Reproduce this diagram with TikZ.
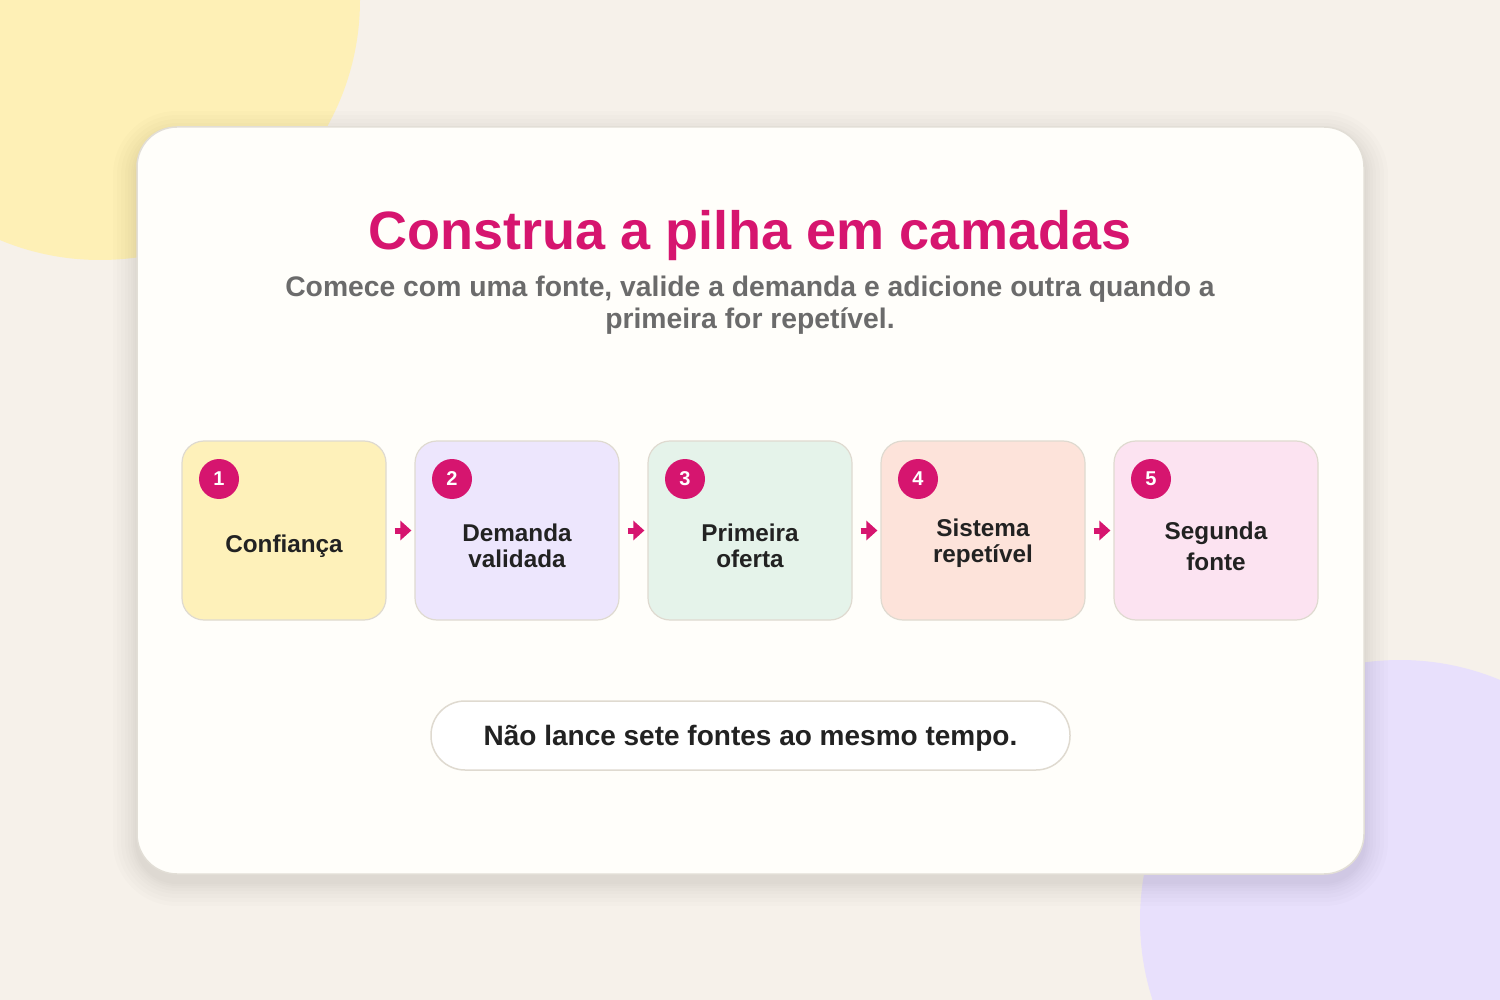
\documentclass[tikz,border=0pt]{standalone}
\usepackage{fontspec}
\setmainfont{Liberation Sans}
\usetikzlibrary{arrows.meta}
\definecolor{bgcol}{HTML}{F6F1EA}
\definecolor{blobyellow}{HTML}{FEF0B6}
\definecolor{blobpurple}{HTML}{E8E0FC}
\definecolor{cardfill}{HTML}{FFFEFA}
\definecolor{cardline}{HTML}{E2DED6}
\definecolor{magenta}{HTML}{D6156F}
\definecolor{subgray}{HTML}{6B6B6B}
\definecolor{darktext}{HTML}{222222}
\definecolor{boxline}{HTML}{DFDAD0}
\definecolor{cyellow}{HTML}{FEF1BA}
\definecolor{clav}{HTML}{EDE6FD}
\definecolor{cmint}{HTML}{E5F3EA}
\definecolor{cpeach}{HTML}{FDE3DA}
\definecolor{cpink}{HTML}{FCE3F1}
\tikzset{
  stepbox/.style={draw=boxline, line width=1.2pt, rounded corners=22pt,
    minimum width=204pt, minimum height=179pt, inner sep=0pt},
  badge/.style={circle, fill=magenta, minimum size=40pt, inner sep=0pt,
    text=white, font=\fontsize{20}{22}\selectfont\bfseries},
  steplabel/.style={align=center, text=darktext,
    font=\fontsize{24.3}{26}\selectfont\bfseries},
  flow/.style={draw=magenta, line width=6pt, shorten <=8pt, shorten >=3pt,
    -{Triangle[length=11pt,width=19pt]}},
}
\begin{document}
\begin{tikzpicture}[x=1pt,y=-1pt]
\useasboundingbox (0,0) rectangle (1500,1000);
\fill[bgcol] (0,0) rectangle (1500,1000);
\begin{scope}
\clip (0,0) rectangle (1500,1000);
\fill[blobyellow] (100,0) circle (260);
\fill[blobpurple] (1400,920) circle (260);
\end{scope}
% soft card shadow
\foreach \s in {24,20,16,12,9,6,4,2}{
  \fill[black,opacity=0.012,rounded corners=40pt+\s pt] (137-\s,127-\s+8) rectangle (1364+\s,874+\s+8);
}
\draw[cardline, fill=cardfill, line width=1.5pt, rounded corners=40pt] (137,127) rectangle (1364,874);
% title
\node[text=magenta, font=\fontsize{54}{60}\selectfont\bfseries] (title) at (750,236) {Construa a pilha em camadas};
\node[text=subgray, align=center, font=\fontsize{28.3}{32}\selectfont\bfseries] (sub) at (750,305) {Comece com uma fonte, valide a demanda e adicione outra quando a\\primeira for repetível.};
% boxes
\node[stepbox, fill=cyellow] (b1) at (284,530.5) {};
\node[stepbox, fill=clav]    (b2) at (517,530.5) {};
\node[stepbox, fill=cmint]   (b3) at (750,530.5) {};
\node[stepbox, fill=cpeach]  (b4) at (983,530.5) {};
\node[stepbox, fill=cpink]   (b5) at (1216,530.5) {};
\node[badge] (n1) at (219,479) {1};
\node[badge] (n2) at (452,479) {2};
\node[badge] (n3) at (685,479) {3};
\node[badge] (n4) at (918,479) {4};
\node[badge] (n5) at (1151,479) {5};
\node[steplabel] (l1) at (284,546) {Confiança};
\node[steplabel] (l2) at (517,546) {Demanda\\validada};
\node[steplabel] (l3) at (750,546) {Primeira\\oferta};
\node[steplabel] (l4) at (983,543) {Sistema\\repetível};
\node[steplabel, font=\fontsize{24.3}{31}\selectfont\bfseries] (l5) at (1216,546) {Segunda\\fonte};
\draw[flow] (b1.east) -- (b2.west);
\draw[flow] (b2.east) -- (b3.west);
\draw[flow] (b3.east) -- (b4.west);
\draw[flow] (b4.east) -- (b5.west);
% note pill
\node[draw=boxline, line width=1.5pt, fill=white, rounded corners=34pt,
  minimum width=639pt, minimum height=69pt] (note) at (750.5,735.5) {};
\node[text=darktext, font=\fontsize{28}{30}\selectfont\bfseries] (notetext) at (750.5,738) {Não lance sete fontes ao mesmo tempo.};
\end{tikzpicture}
\end{document}
